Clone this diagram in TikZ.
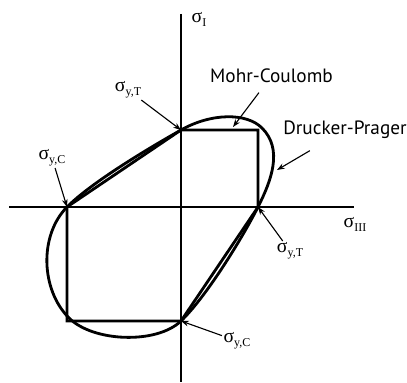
\documentclass[tikz,border=0pt]{standalone}
\usepackage{fontspec}
\setmainfont{Liberation Serif}
\newfontfamily\curvefont{PT Sans}
\usetikzlibrary{arrows.meta}

\newcommand{\sgm}[1]{σ\raisebox{-0.45ex}{\fontsize{8.5}{9}\selectfont #1}}

\begin{document}
\begin{tikzpicture}[
  x=0.25mm, y=-0.25mm,
  >={Stealth[length=5.5pt,width=4pt]},
  axisline/.style={line width=2.1pt},
  yieldline/.style={line width=2pt, line join=miter},
  pointer/.style={->, line width=0.8pt},
  siglabel/.style={font=\fontsize{14}{14}\selectfont, inner sep=1pt},
  curvelabel/.style={font=\curvefont\fontsize{13.7}{14}\selectfont, inner sep=1pt}
]
\useasboundingbox (0,0) rectangle (407,383);

% ===== axes =====
\coordinate (xl) at (9,207);
\coordinate (xr) at (354,207);
\coordinate (yt) at (181,14);
\coordinate (yb) at (181,382);
\draw[axisline] (xl) -- (xr);
\draw[axisline] (yt) -- (yb);

% ===== yield points on the axes =====
\coordinate (Ttop) at (181,130);   % sigma_y,T on sigma_I
\coordinate (Tright) at (258,207); % sigma_y,T on sigma_III
\coordinate (Cbot) at (181,321);   % sigma_y,C on sigma_I
\coordinate (Cleft) at (67,207);   % sigma_y,C on sigma_III

% ===== Mohr-Coulomb hexagon =====
\draw[yieldline] (Ttop) -- (258,130) -- (Tright) -- (Cbot)
  -- (67,321) -- (Cleft) -- cycle;

% ===== Drucker-Prager curve =====
\draw[yieldline] (Ttop) .. controls (211,113) and (246.4,112.4) .. (262,128)
  .. controls (283.2,149.2) and (271.5,180.3) .. (Tright)
  .. controls (242.25,238.15) and (206.2,296.85) .. (Cbot)
  .. controls (156.5,344.5) and (93,342) .. (69,318)
  .. controls (40.7,289.7) and (39,235.4) .. (Cleft)
  .. controls (91.5,182.2) and (150.5,147.2) .. (Ttop);

% ===== axis labels =====
\node[siglabel] (sI) at (199,19) {\sgm{I}};
\node[siglabel] (sIII) at (355,224) {\sgm{III}};

% ===== yield labels =====
\node[siglabel] (lTtop) at (128,90) {\sgm{y,T}};
\node[siglabel] (lCleft) at (52,158) {\sgm{y,C}};
\node[siglabel] (lTright) at (290,251) {\sgm{y,T}};
\node[siglabel] (lCbot) at (237,341) {\sgm{y,C}};

\draw[pointer] (lTtop) -- (Ttop);
\draw[pointer] (lCleft) -- (Cleft);
\draw[pointer] (lTright) -- (Tright);
\draw[pointer] (lCbot) -- (Cbot);

% ===== curve names =====
\coordinate (mcpt) at (233,127);
\coordinate (dppt) at (277,170);
\node[curvelabel] (mc) at (271.5,76) {Mohr-Coulomb};
\node[curvelabel] (dp) at (345,130) {Drucker-Prager};

\draw[pointer, shorten <=2.5mm] (mc) -- (mcpt);
\draw[pointer, shorten <=5mm] (dp) -- (dppt);

\end{tikzpicture}
\end{document}
